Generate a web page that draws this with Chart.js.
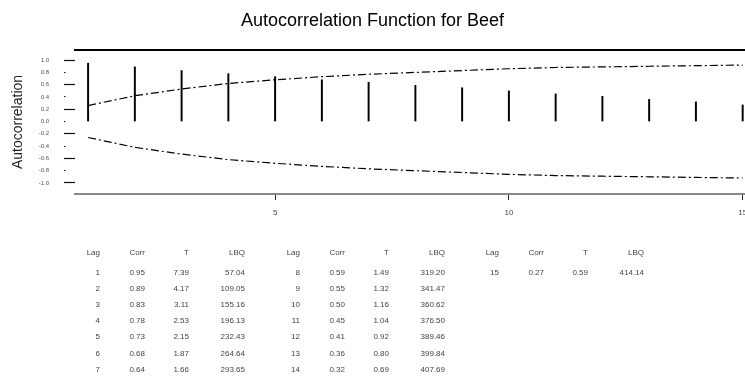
<!DOCTYPE html>
<html lang="en">
<head>
  <meta charset="UTF-8" />
  <title>Autocorrelation Function for Beef</title>
  <script src="https://cdn.jsdelivr.net/npm/chart.js"></script>
  <style>
    body {
      margin: 0;
      background: #fff;
      font-family: 'Liberation Sans', Arial, sans-serif;
    }
    #wrap {
      position: relative;
      width: 745px;
      height: 376px;
      overflow: hidden;
    }
    #acf { position: absolute; left: 0; top: 0; }
    .cel {
      position: absolute;
      font-size: 8px;
      color: #444;
      line-height: 10px;
      white-space: nowrap;
      transform: translate(-100%, -50%);
    }
  </style>
</head>
<body>

<div id="wrap">
  <canvas id="acf" width="745" height="376"></canvas>
  <div id="tabela"></div>
</div>

<script>
  const lags = [1, 2, 3, 4, 5, 6, 7, 8, 9, 10, 11, 12, 13, 14, 15];
  const corr = [0.95, 0.89, 0.83, 0.78, 0.73, 0.68, 0.64, 0.59, 0.55, 0.50, 0.45, 0.41, 0.36, 0.32, 0.27];
  const tStat = [7.39, 4.17, 3.11, 2.53, 2.15, 1.87, 1.66, 1.49, 1.32, 1.16, 1.04, 0.92, 0.80, 0.69, 0.59];
  const lbq = [57.04, 109.05, 155.16, 196.13, 232.43, 264.64, 293.65, 319.20, 341.47, 360.62, 376.50, 389.46, 399.84, 407.69, 414.14];
  const upperLimit = [0.26, 0.42, 0.53, 0.62, 0.68, 0.73, 0.77, 0.80, 0.83, 0.86, 0.88, 0.89, 0.90, 0.91, 0.92];
  const lowerLimit = [-0.26, -0.42, -0.53, -0.62, -0.68, -0.73, -0.77, -0.80, -0.83, -0.86, -0.88, -0.89, -0.90, -0.91, -0.92];
  const yTicks = [-1.0, -0.8, -0.6, -0.4, -0.2, 0.0, 0.2, 0.4, 0.6, 0.8, 1.0];
  const xTicks = [5, 10, 15];
  const colunas = ['Lag', 'Corr', 'T', 'LBQ'];

  const pontos = arr => lags.map((l, i) => ({ x: l, y: arr[i] }));
  const limite = arr => ({
    type: 'line',
    data: pontos(arr),
    borderColor: '#000',
    borderWidth: 1.2,
    borderDash: [8, 3, 2, 3],
    pointRadius: 0,
    fill: false,
    tension: 0
  });

  new Chart(document.getElementById('acf').getContext('2d'), {
    type: 'bar',
    data: {
      datasets: [
        { type: 'bar', data: pontos(corr), backgroundColor: '#000', barThickness: 1.3 },
        limite(upperLimit),
        limite(lowerLimit)
      ]
    },
    options: {
      responsive: false,
      animation: false,
      layout: { padding: 0 },
      plugins: {
        legend: { display: false },
        tooltip: { enabled: false },
        title: {
          display: true,
          text: 'Autocorrelation Function for Beef',
          color: '#000',
          font: { family: 'Liberation Sans, Arial', size: 18, weight: 'normal' },
          padding: { top: 10, bottom: 18.4 }
        }
      },
      scales: {
        x: {
          type: 'linear',
          offset: false,
          min: 0.72,
          max: 15.05,
          afterBuildTicks: s => { s.ticks = xTicks.map(v => ({ value: v })); },
          ticks: { font: { family: 'Liberation Sans, Arial', size: 8 }, color: '#444', padding: 8, maxRotation: 0 },
          grid: { offset: false, drawOnChartArea: false, tickLength: 6, tickColor: '#222', tickWidth: 1 },
          border: { color: '#888', width: 2 },
          afterFit: s => { s.height = 182; s.paddingLeft = 0; s.paddingRight = 0; }
        },
        xTop: {
          type: 'linear',
          position: 'top',
          offset: false,
          min: 0.72,
          max: 15.05,
          ticks: { display: false },
          grid: { offset: false, drawOnChartArea: false, drawTicks: false },
          border: { color: '#000', width: 2 },
          afterFit: s => { s.height = 0; s.paddingLeft = 0; s.paddingRight = 0; }
        },
        y: {
          min: -1.18,
          max: 1.165,
          afterBuildTicks: s => { s.ticks = yTicks.map(v => ({ value: v })); },
          ticks: {
            callback: v => v.toFixed(1),
            font: { family: 'Liberation Sans, Arial', size: 6 },
            color: '#555',
            padding: 15
          },
          grid: {
            drawOnChartArea: false,
            tickLength: 11,
            tickColor: '#111',
            tickWidth: 1.2,
            tickBorderDash: c => (c.index % 2 === 0 ? [] : [1.5, 20])
          },
          border: { display: false },
          title: {
            display: true,
            text: 'Autocorrelation',
            color: '#222',
            font: { family: 'Liberation Sans, Arial', size: 14 },
            padding: { top: 10, bottom: 0 }
          },
          afterFit: s => { s.width = 75; s.paddingTop = 0; s.paddingBottom = 0; }
        }
      }
    }
  });

  // tabela de estatísticas
  const tabela = document.getElementById('tabela');
  const direita = [100, 145, 189, 245];
  const grupos = [0, 200, 399];
  function cel(txt, x, y) {
    const d = document.createElement('div');
    d.className = 'cel';
    d.textContent = txt;
    d.style.left = x + 'px';
    d.style.top = y + 'px';
    tabela.appendChild(d);
  }
  grupos.forEach((g, gi) => {
    colunas.forEach((c, ci) => cel(c, direita[ci] + g, 253));
    lags.slice(gi * 7, gi * 7 + 7).forEach((l, r) => {
      const i = gi * 7 + r;
      const y = 273 + r * 16.1;
      cel(String(l), direita[0] + g, y);
      cel(corr[i].toFixed(2), direita[1] + g, y);
      cel(tStat[i].toFixed(2), direita[2] + g, y);
      cel(lbq[i].toFixed(2), direita[3] + g, y);
    });
  });
</script>

</body>
</html>
